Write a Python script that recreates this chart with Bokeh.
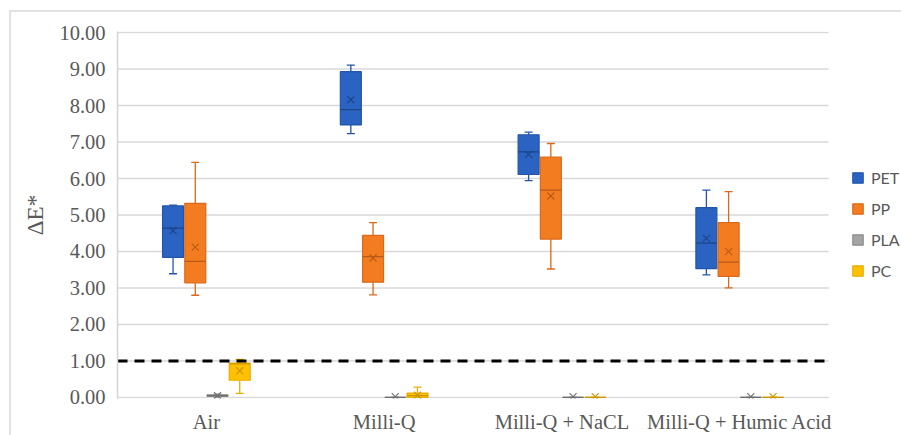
from bokeh.plotting import figure
from bokeh.models import ColumnDataSource, Legend, LegendItem, FixedTicker, NumeralTickFormatter, Range1d
from bokeh.embed import file_html
from bokeh.resources import INLINE

categories = ["Air", "Milli-Q", "Milli-Q + NaCL", "Milli-Q + Humic Acid"]
series = ["PET", "PP", "PLA", "PC"]
y_ticks = [0, 1, 2, 3, 4, 5, 6, 7, 8, 9, 10]

pet_min = [3.39, 7.23, 5.94, 3.36]
pet_q1 = [3.84, 7.47, 6.11, 3.53]
pet_median = [4.64, 7.89, 6.73, 4.23]
pet_q3 = [5.25, 8.93, 7.20, 5.20]
pet_max = [5.27, 9.11, 7.27, 5.68]
pet_mean = [4.57, 8.16, 6.66, 4.36]

pp_min = [2.80, 2.81, 3.52, 3.00]
pp_q1 = [3.14, 3.16, 4.34, 3.32]
pp_median = [3.73, 3.86, 5.68, 3.71]
pp_q3 = [5.32, 4.44, 6.59, 4.79]
pp_max = [6.44, 4.79, 6.96, 5.64]
pp_mean = [4.12, 3.82, 5.52, 4.00]

pla_min = [0.01, 0.00, 0.00, 0.00]
pla_q1 = [0.03, 0.00, 0.00, 0.00]
pla_median = [0.05, 0.00, 0.00, 0.00]
pla_q3 = [0.07, 0.00, 0.00, 0.00]
pla_max = [0.09, 0.00, 0.00, 0.00]
pla_mean = [0.05, 0.02, 0.02, 0.02]

pc_min = [0.11, 0.00, 0.00, 0.00]
pc_q1 = [0.47, 0.00, 0.00, 0.00]
pc_median = [0.92, 0.05, 0.00, 0.00]
pc_q3 = [0.94, 0.12, 0.00, 0.00]
pc_max = [1.04, 0.28, 0.00, 0.00]
pc_mean = [0.73, 0.06, 0.02, 0.02]

threshold = 1.0

stats = {
    "PET": (pet_min, pet_q1, pet_median, pet_q3, pet_max, pet_mean),
    "PP": (pp_min, pp_q1, pp_median, pp_q3, pp_max, pp_mean),
    "PLA": (pla_min, pla_q1, pla_median, pla_q3, pla_max, pla_mean),
    "PC": (pc_min, pc_q1, pc_median, pc_q3, pc_max, pc_mean),
}
fills = {"PET": "#2B63C2", "PP": "#F47C20", "PLA": "#A5A5A5", "PC": "#FFC000"}
edges = {"PET": "#2254A8", "PP": "#D9691C", "PLA": "#8C8C8C", "PC": "#E8AE00"}
marks = {"PET": "#1C4588", "PP": "#B65A17", "PLA": "#6E6E6E", "PC": "#C99600"}
offsets = [-0.1875, -0.0625, 0.0625, 0.1875]
box_w = 0.118
cap_w = 0.045

n = len(categories)
centers = [i + 0.5 for i in range(n)]

p = figure(x_range=Range1d(0, 4.41), y_range=Range1d(-0.03, 10.03), width=901, height=435,
           output_backend="svg", toolbar_location=None,
           min_border_left=117, min_border_top=31, min_border_right=0, min_border_bottom=36)
p.border_fill_color = None
p.background_fill_color = "white"
p.outline_line_color = None
p.styles = {"box-shadow": "inset 9px 10px 0 0 #ffffff, inset 11px 12px 0 0 #e2e2e2"}

p.ygrid.grid_line_color = None
p.xgrid.grid_line_color = None
p.segment(x0=[0] * len(y_ticks), x1=[n] * len(y_ticks), y0=y_ticks, y1=y_ticks,
          line_color="#d9d9d9", line_width=1.5)

p.xaxis.ticker = FixedTicker(ticks=centers)
p.xaxis.major_label_overrides = {c: lab for c, lab in zip(centers, categories)}
p.yaxis.ticker = FixedTicker(ticks=y_ticks)
p.yaxis.formatter = NumeralTickFormatter(format="0.00")
for ax in (p.xaxis, p.yaxis):
    ax.axis_line_color = "#d4d4d4"
    ax.axis_line_width = 1.5
    ax.major_tick_line_color = None
    ax.minor_tick_line_color = None
    ax.major_tick_out = 0
    ax.minor_tick_out = 0
    ax.major_label_text_font = "Liberation Serif"
    ax.major_label_text_font_size = "20.5px"
    ax.major_label_text_color = "#595959"
p.xaxis.axis_line_color = None
p.yaxis.major_label_standoff = 12
p.xaxis.major_label_standoff = 12
p.yaxis.axis_label = "ΔE*"
p.yaxis.axis_label_text_font = "Liberation Serif"
p.yaxis.axis_label_text_font_size = "23px"
p.yaxis.axis_label_text_font_style = "normal"
p.yaxis.axis_label_text_color = "#595959"
p.yaxis.axis_label_standoff = 8

items = []
for s, off in zip(series, offsets):
    mn, q1, md, q3, mx, mean = stats[s]
    xc = [c + off for c in centers]
    src = ColumnDataSource(dict(
        xc=xc,
        xl=[x - cap_w / 2 for x in xc], xr=[x + cap_w / 2 for x in xc],
        bl=[x - box_w / 2 for x in xc], br=[x + box_w / 2 for x in xc],
        mn=mn, q1=q1, md=md, q3=q3, mx=mx, mean=mean))
    p.segment(x0="xc", y0="mn", x1="xc", y1="q1", source=src, line_color=edges[s], line_width=1.3)
    p.segment(x0="xc", y0="q3", x1="xc", y1="mx", source=src, line_color=edges[s], line_width=1.3)
    p.segment(x0="xl", y0="mn", x1="xr", y1="mn", source=src, line_color=edges[s], line_width=1.3)
    p.segment(x0="xl", y0="mx", x1="xr", y1="mx", source=src, line_color=edges[s], line_width=1.3)
    r = p.vbar(x="xc", width=box_w, bottom="q1", top="q3", source=src,
               fill_color=fills[s], line_color=edges[s], line_width=1.2)
    p.segment(x0="bl", y0="md", x1="br", y1="md", source=src, line_color=marks[s], line_width=1.2)
    p.scatter(x="xc", y="mean", source=src, marker="x", size=10, line_color=marks[s], line_width=1.1)
    items.append(LegendItem(label=s, renderers=[r]))

p.segment(x0=[0], x1=[n], y0=[threshold], y1=[threshold], line_color="black",
          line_width=3, line_dash="10 7")

legend = Legend(items=items, location=(734, 118), orientation="vertical",
                glyph_width=13, glyph_height=13, label_height=13, spacing=12,
                label_standoff=7, padding=0, margin=0,
                label_text_font="Lato", label_text_font_size="16px", label_text_color="#595959",
                background_fill_alpha=0, border_line_color=None)
p.add_layout(legend, "center")

open("out.html", "w").write(file_html(p, INLINE))
